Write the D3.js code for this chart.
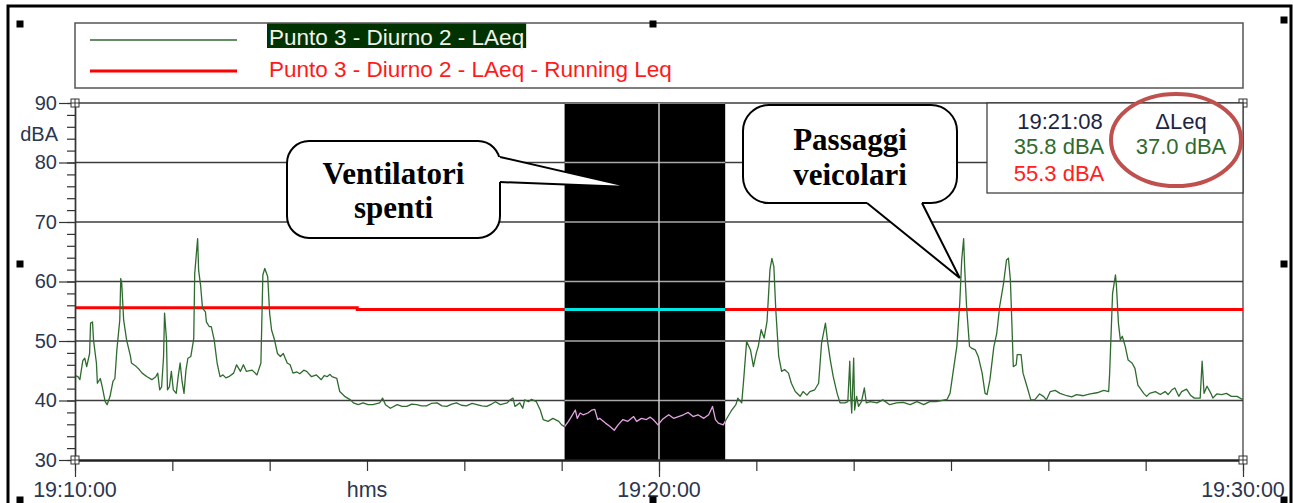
<!DOCTYPE html>
<html>
<head>
<meta charset="utf-8">
<script src="https://cdn.jsdelivr.net/npm/d3@7"></script>
<style>
  body { margin: 0; background: #fff; }
  svg { display: block; }
</style>
</head>
<body>
<div id="chart"></div>
<script>
// ---- data ----
const legendLabels = ['Punto 3 - Diurno 2 - LAeq', 'Punto 3 - Diurno 2 - LAeq - Running Leq'];
const yTicksMajor = [30, 40, 50, 60, 70, 80, 90];
const xTickLabels = [[0, '19:10:00'], [300, 'hms'], [600, '19:20:00'], [1200, '19:30:00']];
const selection = [503, 668];            // seconds after 19:10:00
const runningLeq = [[0, 55.6], [290, 55.3], [1200, 55.3]];
const cursorInfo = { time: '19:21:08', laeq: '35.8 dBA', running: '55.3 dBA', delta: '37.0 dBA' };

// LAeq trace: [seconds after 19:10:00, dBA]
const laeq = [
  [0,44.2],[3,44],[5,43.5],[8,46.7],[10,47.1],[12,45.7],[15,47.9],[16,53],[18,53.2],[19,50.2],
  [22,46.3],[23,42.9],[26,43.7],[28,42.3],[31,39.8],[33,39.3],[36,40.7],[39,43.2],[41,43.7],
  [43,48.5],[46,53.5],[47,60.5],[48,59.7],[50,53.5],[53,50.2],[57,47.4],[58,46.3],[63,45.7],
  [66,45.2],[69,44.6],[74,44],[79,43.5],[83,44],[85,44.6],[87,41.8],[89,42.3],[91,47.4],
  [92,54.7],[94,50.2],[95,41.8],[97,42.3],[99,44.9],[101,41.8],[104,41.2],[106,44],[108,46.3],
  [110,43.2],[112,41.2],[114,45.1],[116,47.1],[119,47.4],[122,50.4],[123,61.3],[125,65.3],
  [126,67.2],[127,61.9],[129,59.4],[131,55.5],[134,54.9],[135,53.2],[138,52.4],[140,52.4],
  [143,50.2],[146,46.3],[149,44],[152,44.3],[155,43.8],[158,44],[163,44.6],[166,46],[170,44.9],
  [173,46],[176,44.9],[182,45.1],[187,44.3],[191,46.3],[193,61.1],[195,62.2],[198,60.8],
  [200,54.6],[202,51.8],[205,50.2],[208,47.9],[211,47.4],[214,47.9],[218,46.3],[221,46],
  [224,44.6],[228,44.8],[231,44.5],[235,45.1],[238,44.9],[243,44],[248,44.3],[253,43.5],
  [256,44.2],[259,44],[262,44.4],[264,44],[269,43.7],[272,41.5],[277,40.7],[283,40.1],
  [286,39.6],[291,39.3],[296,39.6],[301,39.3],[306,39.3],[313,39.6],[316,40.4],[319,39.3],
  [324,38.7],[331,39.3],[336,39],[341,39],[346,39.4],[351,39.3],[356,39.1],[361,39.1],
  [366,39.5],[372,39.6],[377,39.1],[382,39],[387,39.4],[392,39.6],[397,39.2],[402,39.1],
  [408,39.5],[413,39.3],[418,39.1],[423,39],[428,39.4],[432,39.8],[437,39.3],[444,39.6],
  [447,40.1],[450,40.4],[452,39],[457,39.6],[460,38.7],[462,40.1],[466,39.8],[469,40.2],
  [474,39.8],[478,38.4],[481,36.8],[486,36.5],[491,37],[497,36.5],[500,35.9],[503,35.6],
  [507,36.5],[510,37.3],[514,38.4],[516,37],[519,37.9],[522,37.6],[527,37.9],[531,38.4],
  [534,38.5],[537,36.8],[539,37],[545,36.2],[550,35.6],[554,35],[558,35.9],[563,36.8],
  [568,36.5],[574,37.3],[577,36.5],[582,37],[587,36.8],[591,37.2],[594,36.8],[599,35.9],
  [604,36.9],[610,37.6],[615,37],[620,37.3],[625,37.6],[630,38],[635,37.3],[640,37.6],
  [646,37],[651,37.6],[655,39],[658,36.8],[661,36.2],[666,35.9],[669,36.8],[674,38.2],
  [679,39.3],[681,40.4],[685,39.6],[687,43.5],[690,49.9],[694,48.5],[697,45.7],[700,48],
  [702,49.1],[705,51.9],[708,50.5],[711,53.3],[714,62],[716,63.9],[718,62.5],[720,55.2],
  [723,47.4],[726,44.9],[729,45.2],[733,44.6],[736,42.9],[740,41.5],[745,40.7],[748,41.5],
  [752,40.9],[755,41.5],[760,41.8],[764,42.9],[767,49.6],[771,53],[773,50.2],[776,46.8],
  [779,44],[783,41.2],[786,39.6],[791,39.6],[794,39.8],[796,46.6],[797,40.7],[798,37.9],
  [800,47.1],[801,38.4],[803,40.7],[805,39],[808,39.8],[811,42.1],[813,39.6],[817,39.8],
  [824,39.6],[830,40.1],[837,39.3],[844,39.6],[851,39.7],[858,39.3],[865,39.8],[872,39.3],
  [878,39.8],[885,39.8],[896,40.2],[899,41.2],[902,44.6],[906,49.1],[909,56.4],[911,63.6],
  [913,67.2],[914,62.5],[916,55.8],[919,49.1],[921,48.8],[925,48.5],[928,47.4],[932,44.6],
  [935,41.2],[937,41],[940,43.5],[944,49],[947,51.3],[950,55.8],[954,59.7],[957,63.6],
  [959,63.9],[961,60.3],[963,50.8],[964,45.7],[967,46],[968,47.7],[972,47.7],[974,44.6],
  [978,42.4],[982,40.1],[986,40.1],[991,41.1],[995,40.7],[998,40.1],[1002,41.5],[1007,41.7],
  [1012,41.2],[1019,40.8],[1024,40.6],[1029,41],[1036,40.8],[1043,41.1],[1050,41.3],
  [1057,41.7],[1062,41.5],[1063,44.6],[1066,58],[1069,61.1],[1070,59.2],[1072,53],[1074,50.2],
  [1076,50.8],[1079,49.1],[1082,46.8],[1086,46.3],[1089,45.4],[1092,42.6],[1098,41.2],
  [1101,40.7],[1104,41.2],[1110,41.5],[1115,41],[1120,41.5],[1123,41],[1127,41.8],[1130,42.1],
  [1134,40.7],[1137,41.5],[1142,41.9],[1146,40.9],[1150,40.4],[1156,40.4],[1158,46.6],
  [1160,41.2],[1163,42.4],[1167,41.2],[1169,40.4],[1173,41.1],[1178,41],[1183,41.2],
  [1188,40.7],[1194,40.7],[1199,40.2],[1200,40.3]
];

const callouts = [
  { lines: ['Ventilatori', 'spenti'], box: [287, 141, 500, 238], r: 22,
    base: [[500, 157], [500, 182]], tip: [570, 75.9], baselines: [184, 218] },
  { lines: ['Passaggi', 'veicolari'], box: [743, 105, 957, 203], r: 26,
    base: [[867, 203], [922, 203]], tip: [909, 60.6], baselines: [150, 185] }
];

// ---- layout ----
const W = 1293, H = 503;
const sansFont = "'Liberation Sans', Arial, sans-serif";
const axisColor = '#2b3650';

const svg = d3.select('#chart').append('svg')
  .attr('width', W).attr('height', H)
  .style('font-family', sansFont);

const x = d3.scaleLinear().domain([0, 1200]).range([75, 1243]);
const y = d3.scaleLinear().domain([30, 90]).range([460, 103]);

// outer frame
svg.append('rect')
  .attr('x', 8).attr('y', 6).attr('width', 1283).attr('height', 520)
  .attr('fill', 'none').attr('stroke', '#000').attr('stroke-width', 3);

// legend
svg.append('rect')
  .attr('x', 75).attr('y', 23).attr('width', 1168).attr('height', 65)
  .attr('fill', '#fff').attr('stroke', '#555').attr('stroke-width', 1.5);

const legendRows = [
  { y: 40, color: '#336633', width: 1.3, text: legendLabels[0], baseline: 45 },
  { y: 71, color: '#ff0000', width: 3, text: legendLabels[1], baseline: 77 }
];
legendRows.forEach((row, i) => {
  svg.append('line')
    .attr('x1', 90).attr('x2', 237).attr('y1', row.y).attr('y2', row.y)
    .attr('stroke', row.color).attr('stroke-width', row.width);
  const hl = i === 0 ? svg.append('rect') : null;
  const t = svg.append('text')
    .attr('x', 269).attr('y', row.baseline)
    .attr('font-size', 22.5)
    .attr('fill', i === 0 ? '#f2f2e8' : '#ff1a1a')
    .text(row.text);
  if (hl) {
    const bb = t.node().getBBox();
    hl.attr('x', bb.x - 2).attr('y', 23.5).attr('width', bb.width + 4).attr('height', 24.5)
      .attr('fill', '#003300');
  }
});

const selX = x(selection[0]), selW = x(selection[1]) - x(selection[0]);
const defs = svg.append('defs');
defs.append('clipPath').attr('id', 'selClip')
  .append('rect')
  .attr('x', selX).attr('y', y(90)).attr('width', selW).attr('height', y(30) - y(90));

const gridVals = yTicksMajor.filter(v => v > 30);
const stepLine = d3.line().x(d => x(d[0])).y(d => y(d[1])).curve(d3.curveStepAfter);
const traceLine = d3.line().x(d => x(d[0])).y(d => y(d[1]));

// plain area: gridlines, running Leq, LAeq
svg.append('g').selectAll('line').data(gridVals).enter().append('line')
  .attr('x1', x(0)).attr('x2', x(1200))
  .attr('y1', d => y(d)).attr('y2', d => y(d))
  .attr('stroke', '#3c3c3c').attr('stroke-width', 1.4);
svg.append('line')
  .attr('x1', x(1200)).attr('x2', x(1200)).attr('y1', y(90)).attr('y2', y(30))
  .attr('stroke', '#333').attr('stroke-width', 1.2);
svg.append('path').datum(runningLeq)
  .attr('d', stepLine).attr('fill', 'none')
  .attr('stroke', '#ff0000').attr('stroke-width', 3);
svg.append('path').datum(laeq)
  .attr('d', traceLine).attr('fill', 'none')
  .attr('stroke', '#2f6b2f').attr('stroke-width', 1.3).attr('stroke-linejoin', 'round');

// selected interval drawn on black
svg.append('rect')
  .attr('x', selX).attr('y', y(90)).attr('width', selW).attr('height', y(30) - y(90))
  .attr('fill', '#000');
const sel = svg.append('g').attr('clip-path', 'url(#selClip)');
sel.selectAll('line.grid').data(gridVals).enter().append('line')
  .attr('class', 'grid')
  .attr('x1', x(0)).attr('x2', x(1200))
  .attr('y1', d => y(d)).attr('y2', d => y(d))
  .attr('stroke', '#a8a8a8').attr('stroke-width', 1.4);
sel.append('line')
  .attr('x1', x(600)).attr('x2', x(600)).attr('y1', y(90)).attr('y2', y(30))
  .attr('stroke', '#cfcfcf').attr('stroke-width', 1.5);
sel.append('path').datum(runningLeq)
  .attr('d', stepLine).attr('fill', 'none')
  .attr('stroke', '#00e5e5').attr('stroke-width', 3);
sel.append('path').datum(laeq)
  .attr('d', traceLine).attr('fill', 'none')
  .attr('stroke', '#e4a4e4').attr('stroke-width', 1.3).attr('stroke-linejoin', 'round');

// y axis
const yAxisMinor = svg.append('g')
  .attr('transform', `translate(${x(0)},0)`)
  .call(d3.axisLeft(y).tickValues(d3.range(30, 91, 2)).tickSize(8).tickSizeOuter(0).tickFormat(''));
const yAxisMajor = svg.append('g')
  .attr('transform', `translate(${x(0)},0)`)
  .call(d3.axisLeft(y).tickValues(yTicksMajor).tickSize(16).tickSizeOuter(0).tickPadding(2));
[yAxisMinor, yAxisMajor].forEach(g => {
  g.selectAll('line').attr('stroke', '#333').attr('stroke-width', 1.2);
  g.select('.domain').attr('stroke', '#333').attr('stroke-width', 1.4);
});
yAxisMajor.selectAll('text')
  .attr('font-family', sansFont).attr('font-size', 20).attr('fill', axisColor);
svg.append('text')
  .attr('x', 58).attr('y', 141).attr('text-anchor', 'end')
  .attr('font-size', 20).attr('fill', axisColor).text('dBA');

// x axis
const xAxisMinor = svg.append('g')
  .attr('transform', `translate(0,${y(30)})`)
  .call(d3.axisBottom(x).tickValues(d3.range(0, 1201, 100)).tickSize(11).tickSizeOuter(0).tickFormat(''));
const xAxisMajor = svg.append('g')
  .attr('transform', `translate(0,${y(30)})`)
  .call(d3.axisBottom(x).tickValues([0, 600, 1200]).tickSize(17).tickSizeOuter(0).tickFormat(''));
[xAxisMinor, xAxisMajor].forEach(g => {
  g.selectAll('line').attr('stroke', '#333').attr('stroke-width', 1.2);
  g.select('.domain').attr('stroke', '#222').attr('stroke-width', 2);
});
svg.append('g').selectAll('text').data(xTickLabels).enter().append('text')
  .attr('x', d => x(d[0])).attr('y', 497)
  .attr('text-anchor', 'middle')
  .attr('font-size', 21.5).attr('fill', axisColor)
  .text(d => d[1]);

// plot corner handles
[[0, 90], [0, 30], [1200, 30], [1200, 90]].forEach(([t, v]) => {
  const cx = x(t), cy = y(v);
  svg.append('rect').attr('x', cx - 4).attr('y', cy - 4).attr('width', 8).attr('height', 8)
    .attr('fill', '#fff').attr('stroke', '#333').attr('stroke-width', 1);
  svg.append('path').attr('d', `M${cx - 4},${cy}H${cx + 4}M${cx},${cy - 4}V${cy + 4}`)
    .attr('stroke', '#333').attr('stroke-width', 1);
});

// cursor info box
svg.append('rect')
  .attr('x', 987).attr('y', 103).attr('width', 256).attr('height', 90)
  .attr('fill', '#fff').attr('stroke', '#333').attr('stroke-width', 1.2);
const info = [
  { x: 1060, y: 129, text: cursorInfo.time, color: '#1c2444' },
  { x: 1059, y: 154, text: cursorInfo.laeq, color: '#2f6b2f' },
  { x: 1059, y: 181, text: cursorInfo.running, color: '#ff2020' },
  { x: 1181, y: 129, text: '\u0394Leq', color: '#1c2444' },
  { x: 1181, y: 154, text: cursorInfo.delta, color: '#2f6b2f' }
];
svg.append('g').selectAll('text').data(info).enter().append('text')
  .attr('x', d => d.x).attr('y', d => d.y)
  .attr('text-anchor', 'middle').attr('font-size', 22)
  .attr('fill', d => d.color).text(d => d.text);
svg.append('ellipse')
  .attr('cx', 1176).attr('cy', 140).attr('rx', 65).attr('ry', 46)
  .attr('fill', 'none').attr('stroke', '#c0504d').attr('stroke-width', 4);

// callout bubbles
callouts.forEach(c => {
  const [x0, y0, x1, y1] = c.box;
  const tip = [x(c.tip[0]), y(c.tip[1])];
  const g = svg.append('g');
  g.append('rect')
    .attr('x', x0).attr('y', y0).attr('width', x1 - x0).attr('height', y1 - y0)
    .attr('rx', c.r).attr('ry', c.r)
    .attr('fill', '#fff').attr('stroke', '#000').attr('stroke-width', 2);
  const [b1, b2] = c.base;
  const inset = b1[0] === b2[0] ? [-3, 0] : [0, -3];
  g.append('polygon')
    .attr('points', [
      [b1[0] + inset[0], b1[1] + inset[1]], b1, tip, b2, [b2[0] + inset[0], b2[1] + inset[1]]
    ].map(p => p.join(',')).join(' '))
    .attr('fill', '#fff');
  g.append('polyline')
    .attr('points', [b1, tip, b2].map(p => p.join(',')).join(' '))
    .attr('fill', 'none').attr('stroke', '#000').attr('stroke-width', 2);
  const cxm = (x0 + x1) / 2;
  c.lines.forEach((line, i) => {
    g.append('text')
      .attr('x', cxm).attr('y', c.baselines[i])
      .attr('text-anchor', 'middle')
      .attr('font-family', "'Liberation Serif', 'Times New Roman', serif")
      .attr('font-weight', 'bold').attr('font-size', 31)
      .attr('fill', '#000').text(line);
  });
});

// selection handles of the chart object
[[20, 24], [653, 24], [1284, 20], [20, 264], [1284, 264], [20, 500], [653, 500], [1284, 500]]
  .forEach(([hx, hy]) => {
    svg.append('rect').attr('x', hx - 3.5).attr('y', hy - 3.5).attr('width', 7).attr('height', 7)
      .attr('fill', '#000');
  });
</script>
</body>
</html>
